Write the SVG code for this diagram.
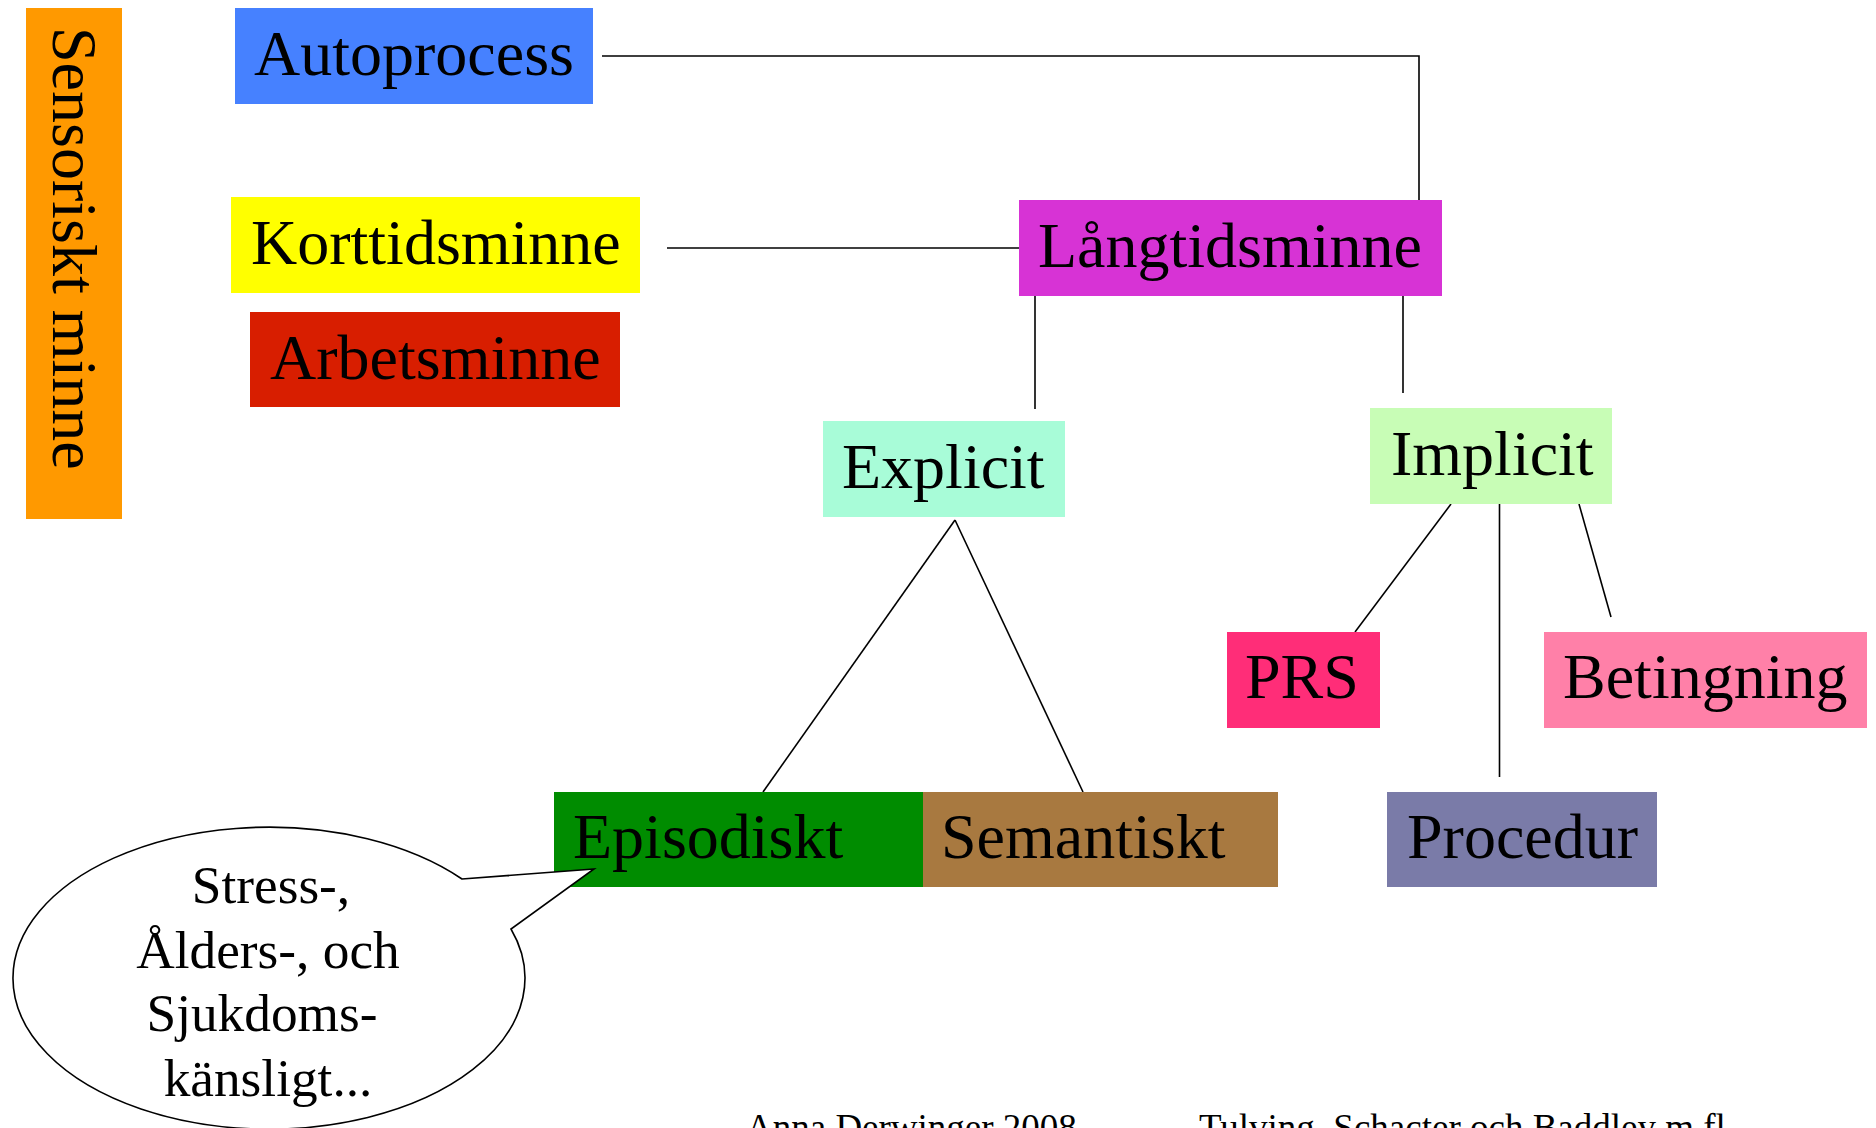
<svg xmlns="http://www.w3.org/2000/svg" width="1876" height="1128" viewBox="0 0 1876 1128">
<style>
.t{font-family:"Liberation Serif","Times New Roman",serif;font-size:64px;fill:#000}
.c{font-family:"Liberation Serif","Times New Roman",serif;font-size:53.3px;fill:#000;text-anchor:middle}
.f{font-family:"Liberation Serif","Times New Roman",serif;font-size:37px;fill:#000}
.ln{stroke:#000;stroke-width:1.6;fill:none}
</style>
<rect width="1876" height="1128" fill="#fff"/>
<g id="connectors">
<polyline class="ln" points="602,56 1419,56 1419,200" stroke-width="2"/>
<line class="ln" x1="667" y1="248" x2="1019" y2="248" stroke-width="2"/>
<line class="ln" x1="1035" y1="296" x2="1035" y2="409"/>
<line class="ln" x1="1403" y1="296" x2="1403" y2="393"/>
<line class="ln" x1="955" y1="520" x2="763" y2="792"/>
<line class="ln" x1="955" y1="520" x2="1083" y2="792"/>
<line class="ln" x1="1451" y1="504" x2="1355" y2="632"/>
<line class="ln" x1="1499.5" y1="504" x2="1499.5" y2="777"/>
<line class="ln" x1="1579" y1="504" x2="1611" y2="617"/>
</g>
<g id="sensoriskt">
<rect x="26" y="8" width="96" height="511" fill="#FF9900"/>
<text class="t" transform="translate(53,27) rotate(90)">Sensoriskt minne</text>
</g>
<g id="autoprocess">
<rect x="235" y="8" width="358" height="96" fill="#4681FF"/>
<text class="t" x="254" y="75">Autoprocess</text>
</g>
<g id="korttidsminne">
<rect x="231" y="197" width="409" height="96" fill="#FFFF00"/>
<text class="t" x="251" y="264">Korttidsminne</text>
</g>
<g id="arbetsminne">
<rect x="250" y="312" width="370" height="95" fill="#D81E00"/>
<text class="t" x="270" y="379">Arbetsminne</text>
</g>
<g id="langtidsminne">
<rect x="1019" y="200" width="423" height="96" fill="#D733D5"/>
<text class="t" x="1038" y="267">Långtidsminne</text>
</g>
<g id="explicit">
<rect x="823" y="421" width="242" height="96" fill="#A8FCD8"/>
<text class="t" x="842" y="488">Explicit</text>
</g>
<g id="implicit">
<rect x="1370" y="408" width="242" height="96" fill="#C8FDB6"/>
<text class="t" x="1391" y="475">Implicit</text>
</g>
<g id="prs">
<rect x="1227" y="632" width="153" height="96" fill="#FF2D78"/>
<text class="t" x="1245" y="698">PRS</text>
</g>
<g id="betingning">
<rect x="1544" y="632" width="323" height="96" fill="#FF80A8"/>
<text class="t" x="1563" y="698">Betingning</text>
</g>
<g id="episodiskt">
<rect x="554" y="792" width="369" height="95" fill="#008C00"/>
<text class="t" x="573" y="858">Episodiskt</text>
</g>
<g id="semantiskt">
<rect x="923" y="792" width="355" height="95" fill="#A87940"/>
<text class="t" x="941" y="858">Semantiskt</text>
</g>
<g id="procedur">
<rect x="1387" y="792" width="270" height="95" fill="#7A7BA8"/>
<text class="t" x="1407" y="858">Procedur</text>
</g>
<g id="callout">
<path d="M462,879 L594,869 L511,929 A256,151 0 1 1 462,879 Z" fill="#fff" stroke="#000" stroke-width="1.6"/>
<text class="c" x="271" y="903">Stress-,</text>
<text class="c" x="268" y="968">Ålders-, och</text>
<text class="c" x="262" y="1031">Sjukdoms-</text>
<text class="c" x="268" y="1096">känsligt...</text>
</g>
<g id="footer">
<text class="f" x="746" y="1140">Anna Derwinger 2008</text>
<text class="f" x="1199" y="1140">Tulving, Schacter och Baddley m.fl</text>
</g>
</svg>
